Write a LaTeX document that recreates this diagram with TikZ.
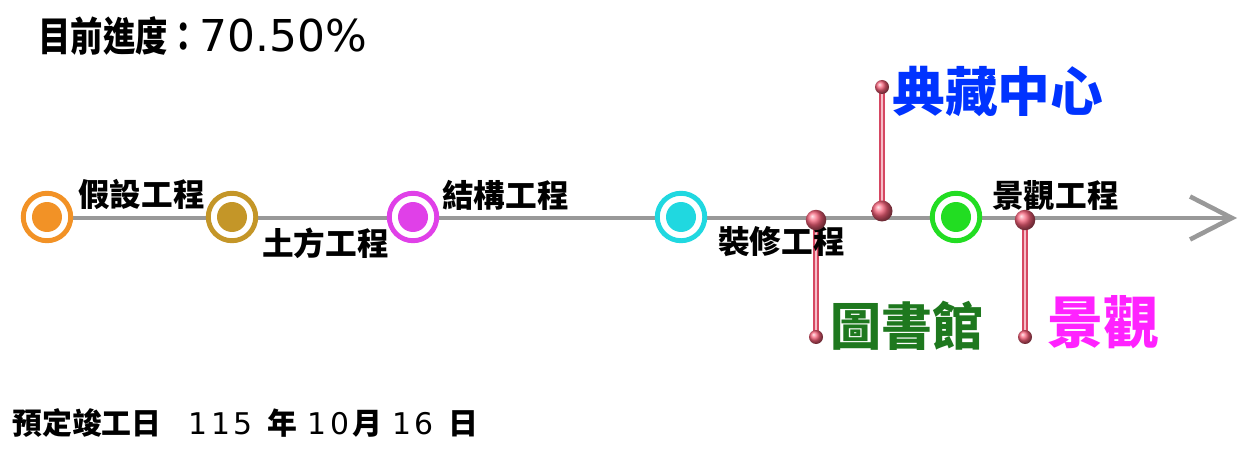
\documentclass[tikz,border=0pt]{standalone}
\usepackage{fontspec}
\setmainfont{DejaVu Sans}
\newfontfamily\cjk{Noto Sans CJK TC}
\newfontfamily\cjknarrow[FakeStretch=0.8]{Noto Sans CJK TC}
\newfontfamily\digits[LetterSpace=12]{DejaVu Sans}
\usetikzlibrary{arrows.meta,positioning,backgrounds}
\definecolor{axisgrey}{RGB}{153,153,153}
\definecolor{mfake}{RGB}{242,146,38}
\definecolor{mearth}{RGB}{196,150,40}
\definecolor{mframe}{RGB}{224,64,232}
\definecolor{mfinish}{RGB}{32,216,224}
\definecolor{mgarden}{RGB}{34,221,34}
\definecolor{pinred}{RGB}{245,95,120}
\definecolor{pinline}{RGB}{214,72,98}
\definecolor{pinlight}{RGB}{246,190,200}
\definecolor{libgreen}{RGB}{30,120,30}
\definecolor{archblue}{RGB}{0,51,255}
\definecolor{viewpink}{RGB}{255,34,255}
\tikzset{
  ring/.style={circle,draw=#1,line width=2.8pt,fill=white,minimum size=0.95cm,inner sep=0pt},
  dot/.style={circle,fill=#1,minimum size=0.6cm,inner sep=0pt},
  stage/.style={font=\cjk\bfseries\fontsize{18}{20}\selectfont,inner sep=0pt,anchor=west},
  pinhead/.style={circle,shading=ball,ball color=pinred,minimum size=#1,inner sep=0pt},
  pinstem/.style={draw=pinline,line width=3.4pt},
  pincore/.style={draw=pinlight,line width=1.3pt},
  tag/.style={font=\cjk\bfseries\fontsize{#1}{#1}\selectfont,inner sep=0pt,anchor=west},
}

\begin{document}
\begin{tikzpicture}[x=0.02cm,y=-0.02cm]
  \useasboundingbox (0,0) rectangle (1256,459);
  % progress line
  \coordinate (start) at (47,218);
  \coordinate (tip) at (1237,218);
  \draw[axisgrey,line width=2.3pt,-{Straight Barb[length=0.84cm,width=0.86cm,line width=2.6pt]}] (start) -- (tip);
  % milestones
  \foreach \n/\x/\c in {fake/47/mfake,earth/232/mearth,frame/413/mframe,finish/681/mfinish,garden/956/mgarden}{
    \node[ring=\c] (\n) at (\x,217) {};
    \node[dot=\c] (\n-in) at (\n) {};}
  \foreach \n/\t/\dx/\dy in {fake/假設工程/31/-23,earth/土方工程/30/26,frame/結構工程/29/-22,
      finish/裝修工程/37/25,garden/景觀工程/36/-21}
    \node[stage] (\n-lbl) at ([shift={(\dx,\dy)}]\n) {\t};
  % pins
  \node[pinhead=0.41cm] (libbase) at (816,220) {};
  \node[pinhead=0.28cm] (libend) at (816,337) {};
  \node[pinhead=0.42cm] (archbase) at (882,211) {};
  \node[pinhead=0.28cm] (archend) at (882,87) {};
  \node[pinhead=0.41cm] (viewbase) at (1025,220) {};
  \node[pinhead=0.28cm] (viewend) at (1025,337) {};
  \begin{pgfonlayer}{background}
    \foreach \p in {lib,arch,view}{
      \draw[pinstem] (\p base.center) -- (\p end.center);
      \draw[pincore] (\p base.center) -- (\p end.center);}
  \end{pgfonlayer}
  \node[tag=29,text=libgreen] (lib) at ([shift={(14,-11)}]libend) {圖書館};
  \node[tag=30,text=archblue] (arch) at ([shift={(10,4)}]archend) {典藏中心};
  \node[tag=32,text=viewpink] (view) at ([shift={(22,-15)}]viewend) {景觀};
  % header and footer
  \node[anchor=west,inner sep=0pt] (progress) at (38,36)
    {{\cjknarrow\bfseries\fontsize{23}{26}\selectfont 目前進度：}{\fontsize{25}{28}\selectfont 70.50\%}};
  \node[anchor=west,inner sep=0pt,font=\fontsize{17}{20}\selectfont] (due) at (12,423)
    {{\cjk\bfseries 預定竣工日}\hspace{0.54cm}{\digits 115}\hspace{0.3cm}{\cjk\bfseries 年}\hspace{0.2cm}%
     {\digits 10}\hspace{0.06cm}{\cjk\bfseries 月}\hspace{0.2cm}{\digits 16}\hspace{0.3cm}{\cjk\bfseries 日}};
\end{tikzpicture}
\end{document}
